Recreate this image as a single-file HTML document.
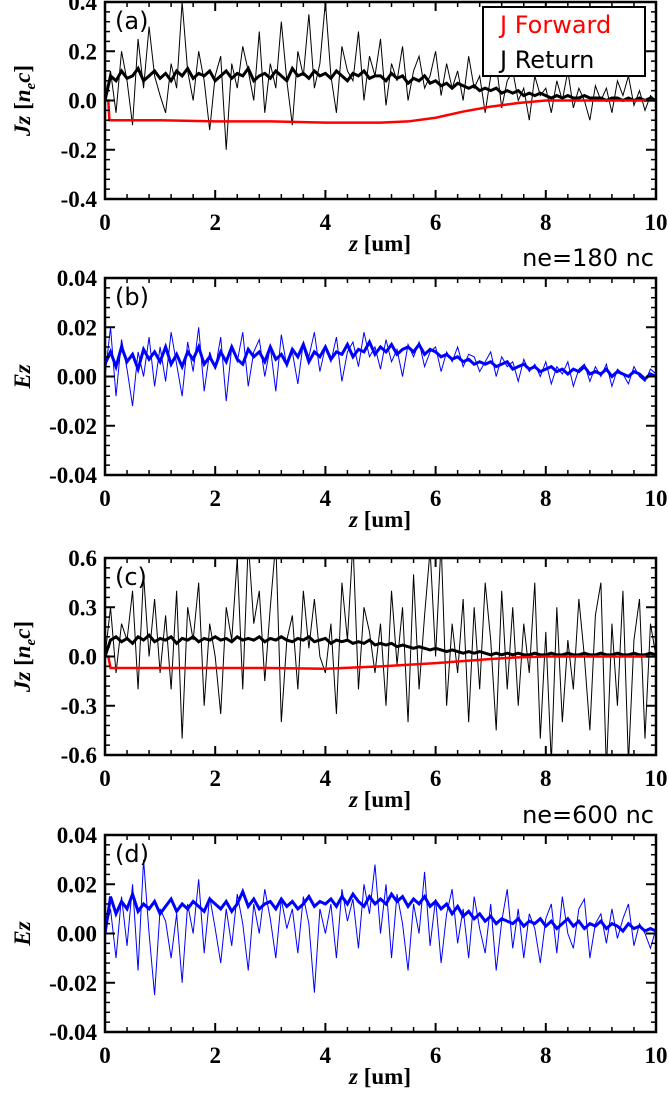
<!DOCTYPE html>
<html><head><meta charset="utf-8">
<style>
html,body{margin:0;padding:0;background:#fff;}
svg{display:block;}
.tl{font-family:"Liberation Serif",serif;font-weight:bold;font-size:23px;fill:#000;}
.sans{font-family:"DejaVu Sans","Liberation Sans",sans-serif;fill:#000;}
</style></head>
<body>
<svg id="chart" width="669" height="1106" viewBox="0 0 669 1106" xmlns="http://www.w3.org/2000/svg"></svg>
<script>
// ---- Data (z sampled every 0.1 um from 0 to 10) ----
const xTicks = [0,2,4,6,8,10];
const yTicksJ1 = [-0.4,-0.2,0.0,0.2,0.4];
const yTickLabelsJ1 = ["-0.4","-0.2","0.0","0.2","0.4"];
const yTicksE = [-0.04,-0.02,0.0,0.02,0.04];
const yTickLabelsE = ["-0.04","-0.02","0.00","0.02","0.04"];
const yTicksJ2 = [-0.6,-0.3,0.0,0.3,0.6];
const yTickLabelsJ2 = ["-0.6","-0.3","0.0","0.3","0.6"];

const returnThinA = [0.0,0.12,-0.05,0.2,0.08,-0.1,0.25,0.05,0.3,0.1,
0.02,-0.05,0.15,0.05,0.4,0.12,0.0,0.2,0.08,-0.12,
0.1,0.18,-0.2,0.15,0.05,0.22,0.12,0.0,0.28,-0.05,
0.15,0.05,0.32,0.08,-0.1,0.2,0.1,0.35,0.05,0.15,
0.4,0.1,-0.05,0.22,0.12,0.08,0.28,0.0,0.18,0.1,
0.25,-0.02,0.15,0.08,0.22,0.0,0.12,0.18,0.05,0.1,
0.2,0.02,0.15,0.05,0.12,0.0,0.18,0.05,0.1,-0.05,
0.1,0.15,-0.03,0.08,0.12,0.0,0.05,-0.08,0.1,0.02,
0.05,-0.05,0.08,0.0,0.12,-0.03,0.05,0.0,-0.08,0.06,
0.0,0.05,-0.05,0.08,0.02,0.1,-0.02,0.04,-0.04,0.02,0.0];
const returnThickA = [0.0,0.1,0.08,0.12,0.09,0.1,0.13,0.08,0.1,0.12,
0.09,0.11,0.08,0.12,0.1,0.13,0.09,0.11,0.1,0.12,
0.08,0.1,0.12,0.09,0.11,0.1,0.13,0.08,0.1,0.11,
0.09,0.12,0.1,0.08,0.13,0.1,0.11,0.09,0.12,0.1,
0.11,0.09,0.12,0.1,0.08,0.11,0.1,0.12,0.09,0.1,
0.1,0.08,0.11,0.09,0.1,0.07,0.09,0.08,0.1,0.07,
0.08,0.06,0.07,0.05,0.07,0.06,0.05,0.06,0.04,0.05,
0.04,0.05,0.03,0.04,0.03,0.04,0.02,0.03,0.02,0.03,
0.02,0.01,0.02,0.01,0.02,0.01,0.01,0.02,0.01,0.01,
0.01,0.0,0.01,0.01,0.0,0.01,0.0,0.01,0.0,0.01,0.0];
const forwardZA = [0,0.06,0.08,1,2,3,4,5,5.5,6,6.5,7,7.5,8,10];
const forwardA = [0,0,-0.08,-0.08,-0.085,-0.085,-0.09,-0.09,-0.085,-0.07,-0.045,-0.025,-0.01,0,0];

const ezThickB = [0.005,0.01,0.004,0.012,0.006,0.009,0.003,0.011,0.007,0.01,
0.006,0.012,0.005,0.009,0.004,0.01,0.007,0.012,0.005,0.008,
0.004,0.01,0.006,0.012,0.007,0.005,0.011,0.008,0.01,0.006,
0.012,0.007,0.009,0.005,0.011,0.008,0.013,0.006,0.01,0.008,
0.012,0.007,0.01,0.009,0.013,0.008,0.011,0.01,0.014,0.009,
0.012,0.01,0.013,0.009,0.011,0.012,0.01,0.013,0.009,0.011,
0.01,0.008,0.009,0.007,0.008,0.006,0.007,0.005,0.006,0.005,
0.006,0.004,0.005,0.006,0.003,0.004,0.005,0.003,0.004,0.002,
0.003,0.004,0.002,0.003,0.001,0.003,0.002,0.004,0.001,0.002,
0.001,0.003,0.0,0.002,0.001,0.0,0.002,0.001,-0.001,0.001,0.0];
const ezThinB = [0.0,0.02,-0.008,0.015,0.003,-0.012,0.01,0.0,0.016,-0.004,
0.012,-0.002,0.018,0.005,-0.008,0.014,0.002,0.02,-0.006,0.01,
0.003,0.016,-0.01,0.012,0.006,0.018,-0.004,0.01,0.015,0.0,
0.012,-0.006,0.017,0.004,0.01,-0.003,0.014,0.008,0.018,0.002,
0.012,0.006,0.016,-0.002,0.01,0.014,0.004,0.018,0.008,0.012,
0.003,0.015,0.006,0.011,0.0,0.013,0.008,0.014,0.004,0.01,
0.012,0.002,0.01,0.006,0.012,0.004,0.009,0.008,0.002,0.006,
0.01,0.0,0.008,0.004,0.006,-0.002,0.007,0.002,0.005,0.0,
0.006,-0.003,0.004,0.001,0.006,-0.004,0.003,0.005,-0.002,0.004,
0.0,0.005,-0.004,0.003,0.001,-0.003,0.004,0.0,-0.002,0.003,0.001];

const returnThinC = [0.0,0.3,-0.1,0.2,0.1,0.4,-0.2,0.5,0.0,0.35,
-0.1,0.25,-0.2,0.4,-0.5,0.3,0.1,0.45,-0.3,0.2,
0.0,-0.35,0.3,0.1,0.6,-0.2,0.7,0.2,0.4,-0.15,
0.3,0.7,-0.4,0.1,0.25,-0.2,0.4,0.05,0.35,0.0,
-0.1,0.2,-0.35,0.45,0.1,0.7,-0.2,0.3,0.15,-0.1,
0.2,-0.3,0.4,-0.05,0.3,-0.4,0.5,-0.2,0.25,0.65,
0.0,0.7,-0.3,0.2,-0.1,0.35,-0.4,0.3,-0.2,0.45,
0.1,-0.45,0.4,-0.2,0.3,-0.3,0.2,-0.1,0.45,-0.5,
0.15,-0.65,0.3,-0.4,0.1,-0.2,0.35,0.0,-0.45,0.25,
0.45,-0.7,0.2,-0.3,0.4,-0.65,0.1,0.35,-0.5,0.2,0.0];
const returnThickC = [0.0,0.1,0.12,0.09,0.11,0.08,0.12,0.1,0.13,0.09,
0.11,0.1,0.12,0.08,0.11,0.1,0.12,0.09,0.11,0.1,
0.12,0.1,0.11,0.09,0.12,0.1,0.11,0.1,0.12,0.09,
0.11,0.1,0.12,0.1,0.09,0.11,0.1,0.12,0.09,0.1,
0.11,0.08,0.1,0.09,0.1,0.08,0.09,0.08,0.1,0.07,
0.08,0.07,0.08,0.06,0.07,0.06,0.05,0.06,0.05,0.04,
0.05,0.04,0.03,0.04,0.03,0.02,0.03,0.02,0.03,0.02,
0.01,0.02,0.01,0.02,0.01,0.02,0.01,0.01,0.02,0.01,
0.01,0.02,0.01,0.01,0.02,0.01,0.01,0.02,0.01,0.01,
0.02,0.01,0.01,0.02,0.01,0.01,0.02,0.01,0.01,0.02,0.01];
const forwardZC = [0,0.06,0.1,2,3,4,5,6,7,7.5,8,10];
const forwardC = [0,0,-0.07,-0.07,-0.07,-0.075,-0.06,-0.04,-0.015,-0.005,0,0];

const ezThickD = [0.0,0.015,0.008,0.013,0.01,0.016,0.009,0.012,0.01,0.013,
0.008,0.011,0.014,0.009,0.012,0.01,0.013,0.011,0.009,0.014,
0.012,0.01,0.013,0.009,0.012,0.017,0.011,0.014,0.01,0.012,
0.013,0.01,0.014,0.011,0.013,0.01,0.012,0.015,0.011,0.013,
0.012,0.014,0.011,0.015,0.012,0.016,0.013,0.011,0.015,0.012,
0.014,0.012,0.016,0.013,0.015,0.011,0.014,0.012,0.015,0.011,
0.013,0.01,0.012,0.008,0.011,0.007,0.009,0.006,0.008,0.005,
0.007,0.004,0.006,0.005,0.004,0.006,0.003,0.005,0.004,0.006,
0.003,0.005,0.002,0.004,0.006,0.003,0.005,0.002,0.004,0.003,
0.005,0.002,0.004,0.003,0.001,0.004,0.002,0.003,0.001,0.002,0.001];
const ezThinD = [0.0,0.01,-0.01,0.015,-0.005,0.02,-0.015,0.03,0.0,-0.025,
0.01,0.005,-0.01,0.008,-0.02,0.012,0.0,0.022,-0.008,0.015,
0.002,-0.012,0.01,-0.005,0.016,0.004,-0.015,0.012,0.0,0.018,
0.006,-0.01,0.014,0.002,0.01,-0.008,0.015,0.004,-0.024,0.01,
0.0,0.012,-0.01,0.018,0.005,0.014,-0.006,0.02,0.008,0.028,
0.0,0.02,-0.01,0.016,0.004,-0.015,0.012,0.0,0.025,-0.005,
0.014,-0.012,0.008,0.018,-0.004,0.01,-0.01,0.015,0.002,-0.008,
0.012,-0.015,0.005,0.018,-0.006,0.01,-0.01,0.008,0.002,-0.012,
0.006,0.012,-0.008,0.015,0.0,-0.006,0.01,0.014,-0.01,0.004,
0.008,-0.004,0.01,-0.002,0.006,0.012,-0.005,0.004,0.0,-0.006,0.002];

const NS = "http://www.w3.org/2000/svg";
const svg = document.getElementById('chart');
const X0 = 105, X1 = 656, PH = 197;
function mk(tag, attrs, parent){
  const e = document.createElementNS(NS, tag);
  for (const k in attrs) e.setAttribute(k, attrs[k]);
  (parent||svg).appendChild(e);
  return e;
}
function xs(z){ return X0 + (z/10)*(X1-X0); }

function panel(id, top, yMax, yTicks, yLabels, letter, yTitleHtml){
  const g = mk('g', {});
  
  
  const ys = v => top + (yMax - v)/(2*yMax)*PH;
  const clipId = 'clip-' + id;
  const cp = mk('clipPath', {id: clipId}, g);
  mk('rect', {x:X0, y:top, width:X1-X0, height:PH}, cp);
  const plot = mk('g', {'clip-path':'url(#'+clipId+')'}, g);
  
  
  const tg = mk('g', {stroke:'#000', 'stroke-width':2}, g);
  
  
  for (let i=0;i<xTicks.length;i++){
    const z = xTicks[i], x = xs(z);
    mk('line',{x1:x,y1:top+PH,x2:x,y2:top+PH-9},tg);
    mk('line',{x1:x,y1:top,x2:x,y2:top+9},tg);
    const t = mk('text',{x:x,y:top+PH+31,'text-anchor':'middle',class:'tl'},g);
    t.textContent = String(z);
    
    
    if (i < xTicks.length-1){
      for (let k=1;k<5;k++){
        const xm = xs(z + k*(xTicks[1]-xTicks[0])/5);
        mk('line',{x1:xm,y1:top+PH,x2:xm,y2:top+PH-5,'stroke-width':1.5},tg);
        mk('line',{x1:xm,y1:top,x2:xm,y2:top+5,'stroke-width':1.5},tg);
      }
    }
  }
  const ystep = yTicks[1]-yTicks[0];
  for (let i=0;i<yTicks.length;i++){
    const v = yTicks[i], y = ys(v);
    mk('line',{x1:X0,y1:y,x2:X0+10,y2:y},tg);
    mk('line',{x1:X1,y1:y,x2:X1-10,y2:y},tg);
    const t = mk('text',{x:97,y:y+8,'text-anchor':'end',class:'tl'},g);
    t.textContent = yLabels[i];
    
    
    if (i < yTicks.length-1){
      for (let k=1;k<5;k++){
        const ym = ys(v + k*ystep/5);
        mk('line',{x1:X0,y1:ym,x2:X0+5,y2:ym,'stroke-width':1.5},tg);
        mk('line',{x1:X1,y1:ym,x2:X1-5,y2:ym,'stroke-width':1.5},tg);
      }
    }
  }
  const fr = mk('rect',{x:X0,y:top,width:X1-X0,height:PH,fill:'none',stroke:'#000','stroke-width':2.5},g);
  
  
  const lt = mk('text',{x:115,y:top+27,class:'sans','font-size':24},g);
  lt.textContent = '(' + letter + ')';
  
  
  const xt = mk('text',{x:380,y:top+PH+52,class:'tl','text-anchor':'middle','font-size':24},g);
  xt.innerHTML = '<tspan font-style="italic">z</tspan> [um]';
  
  
  const yt = mk('text',{x:0,y:0,class:'tl','font-size':24,'text-anchor':'middle',
    transform:'translate(30,'+(top+PH/2)+') rotate(-90)'},g);
  yt.innerHTML = yTitleHtml;
  
  
  return {plot, ys};
}

function series(p, vals, color, width, name){
  let d = '';
  for (let i=0;i<vals.length;i++){
    d += (i?'L':'M') + xs(i*10/(vals.length-1)).toFixed(2) + ',' + p.ys(vals[i]).toFixed(2);
  }
  const path = mk('path',{d:d,fill:'none',stroke:color,'stroke-width':width,'stroke-linejoin':'miter'},p.plot);
  
  
}
function seriesXY(p, zs, vals, color, width, name){
  let d = '';
  for (let i=0;i<vals.length;i++){
    d += (i?'L':'M') + xs(zs[i]).toFixed(2) + ',' + p.ys(vals[i]).toFixed(2);
  }
  const path = mk('path',{d:d,fill:'none',stroke:color,'stroke-width':width},p.plot);
  
  
}

const jTitle = '<tspan font-style="italic">Jz</tspan> [<tspan font-style="italic">n</tspan><tspan font-style="italic" font-size="15" dy="5">e</tspan><tspan font-style="italic" dy="-5">c</tspan>]';
const eTitle = '<tspan font-style="italic">Ez</tspan>';

const pa = panel('a', 2, 0.4, yTicksJ1, yTickLabelsJ1, 'a', jTitle);
series(pa, returnThinA, '#000', 1, 'j-return-thin-a');
series(pa, returnThickA, '#000', 3, 'j-return-thick-a');
seriesXY(pa, forwardZA, forwardA, '#f00', 2.5, 'j-forward-a');

const pb = panel('b', 278, 0.04, yTicksE, yTickLabelsE, 'b', eTitle);
series(pb, ezThinB, '#00f', 1, 'ez-thin-b');
series(pb, ezThickB, '#00f', 3, 'ez-thick-b');

const pc = panel('c', 558, 0.6, yTicksJ2, yTickLabelsJ2, 'c', jTitle);
series(pc, returnThinC, '#000', 1, 'j-return-thin-c');
series(pc, returnThickC, '#000', 3, 'j-return-thick-c');
seriesXY(pc, forwardZC, forwardC, '#f00', 2.5, 'j-forward-c');

const pd = panel('d', 835, 0.04, yTicksE, yTickLabelsE, 'd', eTitle);
series(pd, ezThinD, '#00f', 1, 'ez-thin-d');
series(pd, ezThickD, '#00f', 3, 'ez-thick-d');

const n1 = mk('text',{x:654,y:266,'text-anchor':'end',class:'sans','font-size':24});
n1.textContent = 'ne=180 nc';


const n2 = mk('text',{x:654,y:823,'text-anchor':'end',class:'sans','font-size':24});
n2.textContent = 'ne=600 nc';



const lg = mk('g',{});


mk('rect',{x:483,y:7,width:162,height:69,fill:'#fff',stroke:'#000','stroke-width':2},lg);
const l1 = mk('text',{x:500,y:33,class:'sans','font-size':24},lg);
l1.setAttribute('style','fill:#f00');
l1.textContent = 'J Forward';


const l2 = mk('text',{x:500,y:68,class:'sans','font-size':24},lg);
l2.textContent = 'J Return';


</script>
</body></html>
